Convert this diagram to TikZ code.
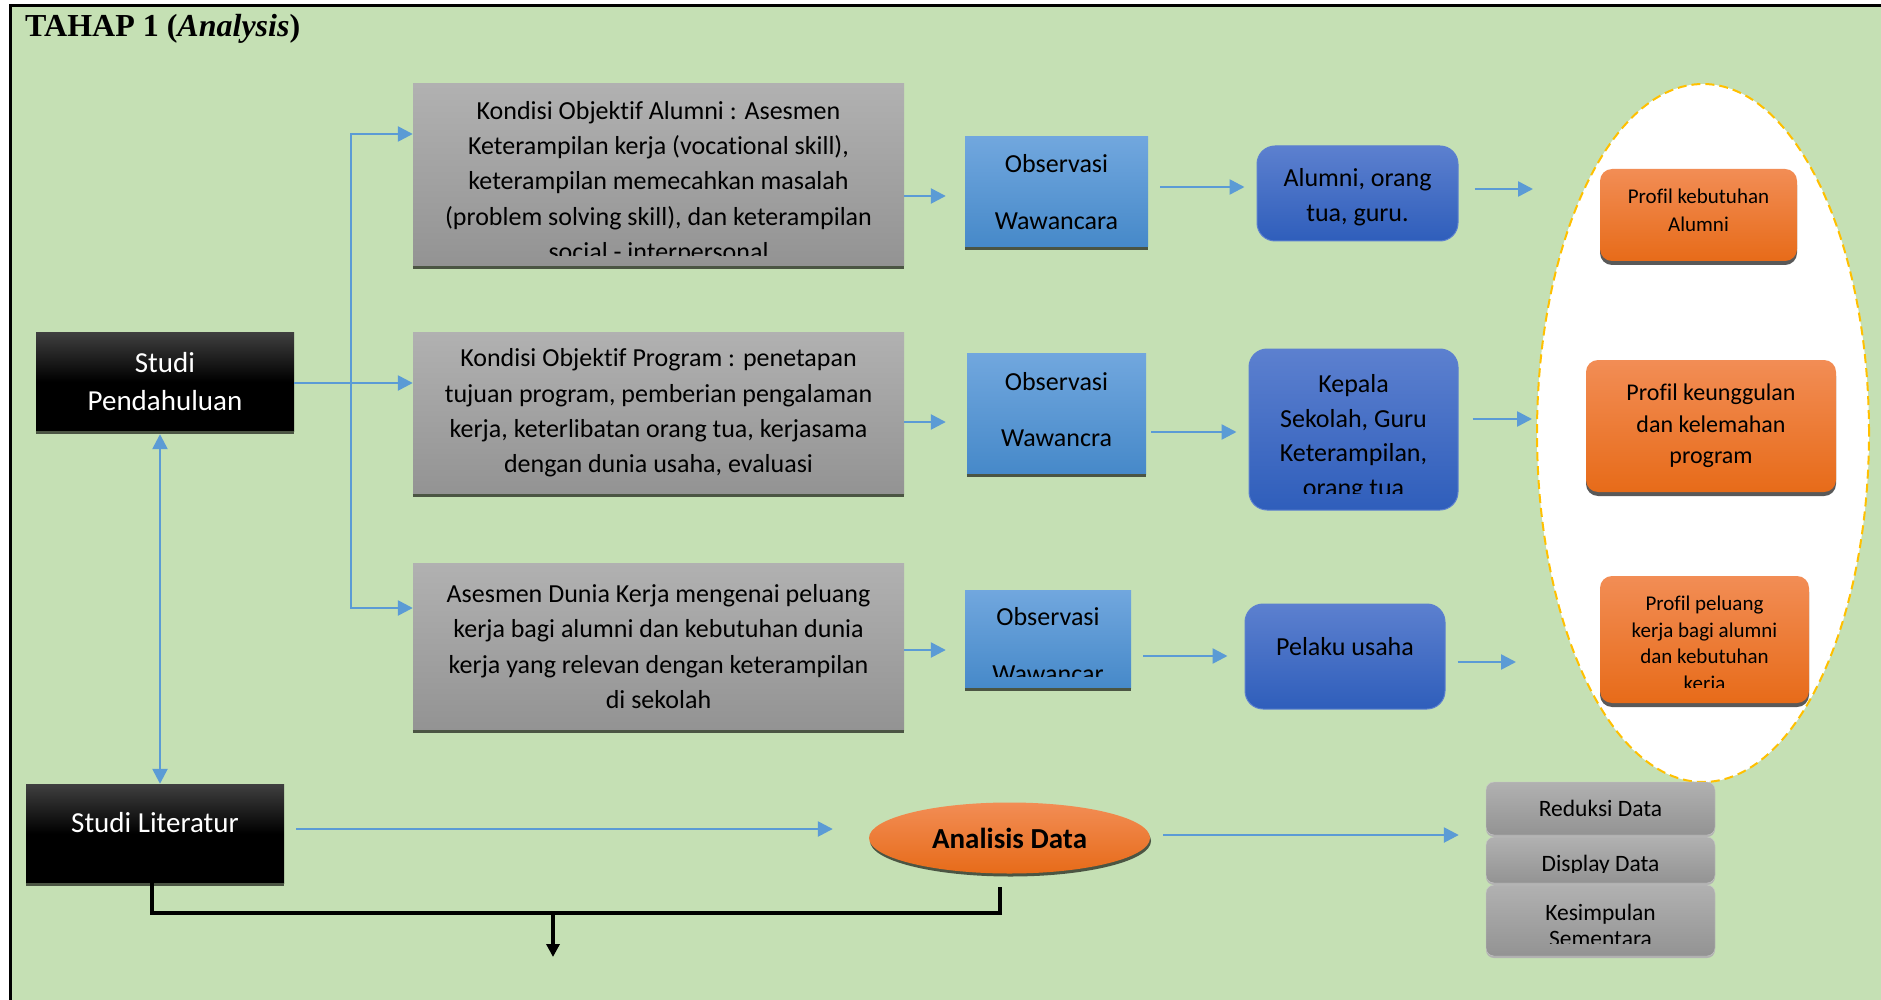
\documentclass[tikz,border=0pt]{standalone}
\usepackage{fontspec}
\setmainfont{Carlito}[Ligatures=NoCommon]
\newfontfamily\titlefont{Liberation Serif}
\usetikzlibrary{arrows.meta,shapes.geometric,shadows}

\definecolor{bggreen}{HTML}{C5E0B4}
\definecolor{flowblue}{HTML}{5B9BD5}
\definecolor{bartone}{HTML}{4B5543}
\definecolor{graytop}{HTML}{B1B1B1}
\definecolor{graybot}{HTML}{939393}
\definecolor{ltbluetop}{HTML}{71A7DE}
\definecolor{ltbluebot}{HTML}{4689C9}
\definecolor{dkbluetop}{HTML}{5C80CF}
\definecolor{dkbluebot}{HTML}{2F5EBB}
\definecolor{orangetop}{HTML}{F28D55}
\definecolor{orangebot}{HTML}{E76B19}
\definecolor{dashgold}{HTML}{FFC000}

\tikzset{
  box/.style={rectangle, inner sep=0pt, align=center},
  blackbox/.style={box, top color=black!75, bottom color=black, middle color=black,
    text=white, font=\fontsize{29}{38}\selectfont, minimum width=258pt, minimum height=99pt},
  graybox/.style={box, top color=graytop, bottom color=graybot,
    font=\fontsize{26}{35.3}\selectfont, minimum width=491pt},
  obsbox/.style={box, top color=ltbluetop, bottom color=ltbluebot, font=\fontsize{26}{56.5}\selectfont},
  sourcebox/.style={box, rounded corners=18pt, top color=dkbluetop, bottom color=dkbluebot,
    draw=dkbluetop, line width=1pt, font=\fontsize{26}{35}\selectfont},
  profilbox/.style={box, rounded corners=12pt, top color=orangetop, bottom color=orangebot,
    drop shadow={shadow xshift=0pt, shadow yshift=-4pt, fill=black!65, opacity=1}},
  databox/.style={box, rounded corners=8pt, top color=graytop, bottom color=graybot,
    draw=graytop!70!white, font=\fontsize{23.5}{26}\selectfont, minimum width=229pt,
    drop shadow={shadow xshift=0pt, shadow yshift=-2pt, fill=black!30, opacity=1}},
  bar/.style={draw=bartone, line width=3.5pt},
  flow/.style={draw=flowblue, line width=2.5pt, -{Triangle[length=15pt,width=15pt]}},
  flowboth/.style={draw=flowblue, line width=2.5pt, {Triangle[length=15pt,width=15pt]}-{Triangle[length=15pt,width=15pt]}},
  bline/.style={draw=black, line width=3.3pt},
}

\begin{document}
\begin{tikzpicture}[x=1pt, y=-1pt]
        \useasboundingbox (0,0) rectangle (1881,1000);
        \clip (0,0) rectangle (1881,1000);
        \draw[line width=3pt, fill=bggreen] (10,6) rectangle (1920,1040);
        \node[anchor=base west, inner sep=0pt, font=\titlefont\fontsize{32}{36}\selectfont\bfseries] (title) at (25,37) {TAHAP 1 (\textit{Analysis})};

        \node[blackbox] (pend) at (165,381.5) {Studi\\Pendahuluan};
        \node[blackbox] (lit) at (155,833.5) {};
        \node[box, text=white, font=\fontsize{29}{38}\selectfont] (littext) at (155,823) {Studi Literatur};

        \node[graybox, minimum height=182pt] (alumni) at (658.5,175) {};
        \begin{scope}
            \clip (alumni.north west) rectangle ([yshift=11pt]alumni.south east);
            \node[box, font=\fontsize{26}{35.3}\selectfont] (alumnitext) at (658.5,183) {Kondisi Objektif Alumni : Asesmen\\Keterampilan kerja (vocational skill),\\keterampilan memecahkan masalah\\(problem solving skill), dan keterampilan\\social - interpersonal};
        \end{scope}
        \node[graybox, minimum height=162pt] (program) at (658.5,413) {Kondisi Objektif Program : penetapan\\tujuan program, pemberian pengalaman\\kerja, keterlibatan orang tua, kerjasama\\dengan dunia usaha, evaluasi};
        \node[graybox, minimum height=167pt] (dunia) at (658.5,646.5) {Asesmen Dunia Kerja mengenai peluang\\kerja bagi alumni dan kebutuhan dunia\\kerja yang relevan dengan keterampilan\\di sekolah};

        \node[obsbox, minimum width=183pt, minimum height=110pt] (obs1) at (1056.5,192) {Observasi\\Wawancara};
        \node[obsbox, minimum width=179pt, minimum height=121pt] (obs2) at (1056.5,413.5) {};
        \node[box, font=\fontsize{26}{56.5}\selectfont] (obs2text) at (1056.5,409.5) {Observasi\\Wawancra};
        \node[obsbox, minimum width=166pt, minimum height=98pt] (obs3) at (1048,639) {};
        \begin{scope}
            \clip (obs3.north west) rectangle ([yshift=12pt]obs3.south east);
            \node[box, font=\fontsize{26}{56.5}\selectfont] (obs3text) at (1048,645) {Observasi\\Wawancar};
        \end{scope}

        \foreach \b in {pend,lit,alumni,program,dunia,obs1,obs2,obs3}
            \draw[bar] ([yshift=-1.5pt]\b.south west) -- ([yshift=-1.5pt]\b.south east);

        \node[sourcebox, minimum width=201pt, minimum height=95pt] (src1) at (1357.5,193.5) {};
        \node[box, font=\fontsize{26}{35}\selectfont] (src1text) at (1357.5,197) {Alumni, orang\\tua, guru.};
        \node[sourcebox, minimum width=209pt, minimum height=161pt] (src2) at (1353.5,429.5) {};
        \begin{scope}
            \clip (src2.north west) rectangle ([yshift=17pt]src2.south east);
            \node[box, font=\fontsize{26}{34.5}\selectfont] (src2text) at (1353.5,437.5) {Kepala\\Sekolah, Guru\\Keterampilan,\\orang tua};
        \end{scope}
        \node[sourcebox, minimum width=200pt, minimum height=105pt] (src3) at (1345,656.5) {};
        \node[box, font=\fontsize{26}{35}\selectfont] (src3text) at (1345,647) {Pelaku usaha};

        \node[ellipse, draw=dashgold, fill=white, line width=2pt, dash pattern=on 9pt off 5pt,
            minimum width=332pt, minimum height=698pt, inner sep=0pt] (hasil) at (1703,433) {};

        \node[profilbox, minimum width=197pt, minimum height=92pt] (prof1) at (1698.5,215) {};
        \node[box, font=\fontsize{21}{28}\selectfont] (prof1text) at (1698.5,210) {Profil kebutuhan\\Alumni};
        \node[profilbox, minimum width=250pt, minimum height=132pt, font=\fontsize{24}{31.5}\selectfont] (prof2) at (1711,426) {Profil keunggulan\\dan kelemahan\\program};
        \node[profilbox, minimum width=209pt, minimum height=127pt] (prof3) at (1704.5,639.5) {};
        \begin{scope}
            \clip (prof3.north west) rectangle ([yshift=16pt]prof3.south east);
            \node[box, font=\fontsize{21}{26.7}\selectfont] (prof3text) at (1704.5,645) {Profil peluang\\kerja bagi alumni\\dan kebutuhan\\kerja};
        \end{scope}

        \node[ellipse, top color=orangetop, bottom color=orangebot, minimum width=281pt, minimum height=71pt,
            inner sep=0pt, font=\bfseries\fontsize{29}{34}\selectfont,
            drop shadow={shadow xshift=1pt, shadow yshift=-3pt, fill=bartone, opacity=1}] (analisis) at (1009.5,838) {Analisis Data};

        \node[databox, minimum height=53pt] (reduksi) at (1600.5,808.5) {Reduksi Data};
        \node[databox, minimum height=46pt] (display) at (1600.5,860) {};
        \begin{scope}
            \clip (display.north west) rectangle ([yshift=11pt]display.south east);
            \node[box, font=\fontsize{23.5}{26}\selectfont] (displaytext) at (1600.5,865) {Display Data};
        \end{scope}
        \node[databox, minimum height=71pt] (simpulan) at (1600.5,920.5) {};
        \begin{scope}
            \clip (simpulan.north west) rectangle ([yshift=13pt]simpulan.south east);
            \node[box, font=\fontsize{23.5}{26}\selectfont] (simpulantext) at (1600.5,925) {Kesimpulan\\Sementara};
        \end{scope}

        \coordinate (branch) at (351,383);
        \draw[flowboth] (alumni.west |- 0,134) -| (branch) |- (dunia.west |- 0,608);
        \draw[flow] (pend.east |- 0,383) -- (program.west |- 0,383);
        \draw[flowboth, shorten <=3pt] ([xshift=-5pt]pend.south) -- ([xshift=5pt]lit.north);

        \draw[flow, shorten >=19pt] (alumni.east |- 0,196) -- (obs1.west |- 0,196);
        \draw[flow, shorten >=21pt] (program.east |- 0,422) -- (obs2.west |- 0,422);
        \draw[flow, shorten >=19pt] (dunia.east |- 0,650) -- (obs3.west |- 0,650);
        \draw[flow, shorten <=12pt, shorten >=12pt] (obs1.east |- 0,187) -- (src1.west |- 0,187);
        \draw[flow, shorten <=5pt, shorten >=12pt] (obs2.east |- 0,432) -- (src2.west |- 0,432);
        \draw[flow, shorten <=12pt, shorten >=17pt] (obs3.east |- 0,656) -- (src3.west |- 0,656);
        \draw[flow, shorten <=16pt, shorten >=3pt] (src1.east |- 0,189) -- (hasil.west |- 0,189);
        \draw[flow, shorten <=14pt, shorten >=4pt] (src2.east |- 0,419) -- (hasil.west |- 0,419);
        \draw[flow, shorten <=12pt, shorten >=20pt] (src3.east |- 0,662) -- (hasil.west |- 0,662);
        \draw[flow, shorten <=12pt, shorten >=36pt] (lit.east |- 0,829) -- (analisis.west |- 0,829);
        \draw[flow, shorten <=13pt, shorten >=27pt] (analisis.east |- 0,835) -- (reduksi.west |- 0,835);

        \coordinate (merge) at (553,913);
        \coordinate (next) at (553,957);
        \draw[bline] ([xshift=-3pt]lit.south) |- (merge) -| ([xshift=-9.5pt,yshift=-13pt]analisis.south);
        \draw[bline, -{Triangle[length=13pt,width=13pt]}] (merge) -- (next);
\end{tikzpicture}
\end{document}
